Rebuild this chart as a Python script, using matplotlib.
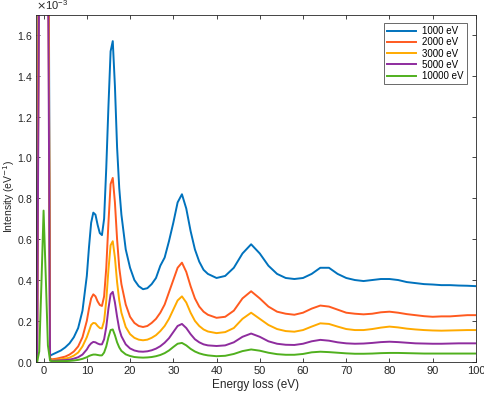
import numpy as np
import matplotlib
matplotlib.use("Agg")
import matplotlib.pyplot as plt

plt.rcParams['font.family'] = ['Liberation Sans', 'DejaVu Sans']

# Energy loss axis (eV)
energy = [-1.75, -1.5, -1.0, -0.5, 0.0, 0.5, 1.0, 1.5,
          2, 3, 4, 5, 6, 7, 8, 9, 10, 10.5, 11, 11.5, 12, 12.5, 13, 13.5,
          14, 14.5, 15, 15.5, 16, 16.5, 17, 17.5, 18, 19, 20, 21, 22, 23,
          24, 25, 26, 27, 28, 29, 30, 31, 32, 33, 34, 35, 36, 37, 38,
          40, 42, 44, 46, 48, 50, 52, 54, 56, 58, 60, 62, 64, 66, 68, 70,
          72, 74, 76, 78, 80, 82, 84, 86, 88, 90, 92, 94, 96, 98, 100]

# Intensities in units of 1e-3 eV^-1
i_1000 = [0.0, 0.0, 3.0, 7.0, 9.0, 7.0, 3.2, 0.03,
          0.035, 0.045, 0.055, 0.07, 0.09, 0.12, 0.165, 0.25, 0.42, 0.56, 0.68, 0.73, 0.72, 0.67, 0.63, 0.62,
          0.70, 0.95, 1.25, 1.52, 1.57, 1.35, 1.05, 0.85, 0.72, 0.55, 0.46, 0.40, 0.37, 0.355,
          0.36, 0.38, 0.41, 0.47, 0.51, 0.59, 0.68, 0.78, 0.82, 0.75, 0.64, 0.55, 0.49, 0.45, 0.43,
          0.41, 0.42, 0.46, 0.53, 0.575, 0.53, 0.47, 0.43, 0.41, 0.405, 0.41, 0.43, 0.46, 0.46, 0.43, 0.41,
          0.40, 0.395, 0.40, 0.405, 0.405, 0.40, 0.39, 0.385, 0.38, 0.378, 0.375, 0.375, 0.373, 0.372, 0.37]
i_2000 = [0.0, 0.0, 2.6, 6.5, 8.5, 6.5, 2.8, 0.015,
          0.012, 0.015, 0.02, 0.025, 0.035, 0.05, 0.075, 0.12, 0.20, 0.26, 0.31, 0.33, 0.32, 0.295, 0.278, 0.273,
          0.32, 0.46, 0.68, 0.87, 0.90, 0.78, 0.60, 0.46, 0.38, 0.28, 0.22, 0.19, 0.175, 0.17,
          0.175, 0.19, 0.21, 0.24, 0.28, 0.34, 0.40, 0.46, 0.485, 0.44, 0.37, 0.31, 0.27, 0.245, 0.23,
          0.215, 0.22, 0.25, 0.31, 0.345, 0.31, 0.27, 0.245, 0.235, 0.23, 0.24, 0.26, 0.275, 0.27, 0.255, 0.24,
          0.235, 0.232, 0.235, 0.242, 0.245, 0.24, 0.233, 0.228, 0.223, 0.22, 0.222, 0.222, 0.225, 0.228, 0.228]
i_3000 = [0.0, 0.0, 2.3, 6.0, 8.0, 6.0, 2.5, 0.012,
          0.008, 0.01, 0.012, 0.015, 0.02, 0.03, 0.045, 0.075, 0.12, 0.15, 0.18, 0.19, 0.188, 0.175, 0.165, 0.163,
          0.20, 0.30, 0.45, 0.57, 0.59, 0.51, 0.39, 0.30, 0.24, 0.17, 0.135, 0.117, 0.108, 0.105,
          0.108, 0.117, 0.13, 0.15, 0.175, 0.21, 0.255, 0.30, 0.32, 0.29, 0.24, 0.20, 0.175, 0.158, 0.148,
          0.14, 0.145, 0.165, 0.21, 0.24, 0.21, 0.18, 0.16, 0.15, 0.147, 0.155, 0.172, 0.188, 0.185, 0.172, 0.16,
          0.155, 0.155, 0.16, 0.167, 0.172, 0.168, 0.162, 0.158, 0.155, 0.153, 0.152, 0.153, 0.154, 0.155, 0.155]
i_5000 = [0.0, 0.0, 2.0, 5.0, 7.0, 5.0, 2.1, 0.008,
          0.005, 0.006, 0.007, 0.008, 0.01, 0.015, 0.022, 0.035, 0.06, 0.078, 0.09, 0.097, 0.095, 0.089, 0.085, 0.085,
          0.11, 0.17, 0.26, 0.33, 0.342, 0.29, 0.22, 0.16, 0.125, 0.085, 0.065, 0.055, 0.05, 0.049,
          0.051, 0.056, 0.064, 0.076, 0.093, 0.115, 0.145, 0.175, 0.185, 0.165, 0.135, 0.11, 0.095, 0.085, 0.08,
          0.077, 0.08, 0.095, 0.122, 0.138, 0.122, 0.10, 0.088, 0.083, 0.082, 0.088, 0.10, 0.107, 0.103, 0.095, 0.09,
          0.088, 0.089, 0.092, 0.096, 0.098, 0.096, 0.093, 0.09, 0.089, 0.088, 0.088, 0.089, 0.09, 0.09, 0.09]
i_10000 = [0.0, 0.0, 0.05, 0.38, 0.74, 0.42, 0.08, 0.005,
           0.002, 0.002, 0.003, 0.003, 0.004, 0.006, 0.009, 0.014, 0.022, 0.028, 0.032, 0.035, 0.035, 0.033, 0.031, 0.031,
           0.045, 0.075, 0.12, 0.155, 0.158, 0.13, 0.095, 0.07, 0.053, 0.036, 0.028, 0.023, 0.021, 0.02,
           0.021, 0.023, 0.027, 0.033, 0.042, 0.055, 0.072, 0.088, 0.092, 0.08, 0.063, 0.05, 0.041, 0.035, 0.031,
           0.027, 0.029, 0.038, 0.052, 0.06, 0.054, 0.044, 0.037, 0.034, 0.034, 0.038, 0.046, 0.049, 0.047, 0.044, 0.041,
           0.039, 0.039, 0.04, 0.042, 0.043, 0.043, 0.042, 0.041, 0.04, 0.04, 0.04, 0.04, 0.04, 0.04, 0.04]

labels = ["1000 eV", "2000 eV", "3000 eV", "5000 eV", "10000 eV"]
colors = ["#0072BD", "#FF5A1F", "#FFAA00", "#8E2C9E", "#50B01E"]

fig = plt.figure(figsize=(4.84, 3.93), dpi=100)
ax = fig.add_axes([0.0744, 0.0796, 0.909, 0.8834])

for y, lab, c in zip([i_1000, i_2000, i_3000, i_5000, i_10000], labels, colors):
    ax.plot(energy, np.array(y) * 1e-3, color=c, lw=1.4, label=lab)

ax.set_xlim(-1.75, 100)
ax.set_ylim(0, 1.7e-3)
ax.set_xticks(np.arange(0, 101, 10))
ax.set_yticks(np.arange(0, 1.61e-3, 0.2e-3))
ax.ticklabel_format(axis="y", style="sci", scilimits=(-3, -3), useMathText=True)
ax.yaxis.get_offset_text().set_fontsize(8)
ax.yaxis.get_offset_text().set_color("#262626")

ax.tick_params(direction="in", length=3, width=0.6, top=True, right=True,
               labelsize=8, colors="#262626", pad=3)
ax.tick_params(axis="y", pad=2, labelsize=7.5)
for s in ax.spines.values():
    s.set_color("#262626")
    s.set_linewidth(0.6)

ax.set_xlabel("Energy loss (eV)", fontsize=8.5, color="#262626", labelpad=2)
# y label placed in figure pixels so it sits between the edge and tick labels
fig.text(1.5 / 484, 0.5, "Intensity (eV$^{-1}$)", rotation=90, ha="left",
         va="center", fontsize=7.5, color="#262626")

leg = ax.legend(loc="upper right", fontsize=7, frameon=True, fancybox=False,
                edgecolor="#262626", handlelength=3.0, borderpad=0.35,
                labelspacing=0.12, handletextpad=0.6, borderaxespad=0,
                bbox_to_anchor=(0.98, 0.976))
leg.get_frame().set_linewidth(0.6)

fig.savefig("out.png", dpi=100)
